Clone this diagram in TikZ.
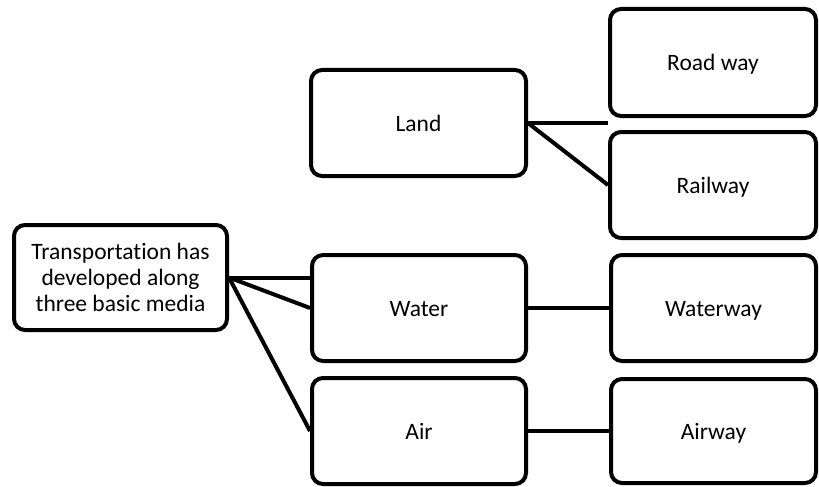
\documentclass[tikz,border=0pt]{standalone}
\usepackage{fontspec}
\setmainfont[Ligatures=NoCommon]{Carlito}
\begin{document}
\begin{tikzpicture}[x=1pt,y=-1pt,
  box/.style={draw=black, line width=4pt, rounded corners=11pt, fill=white,
    inner sep=0pt, align=center, font=\fontsize{23.5}{26}\selectfont},
  onebox/.style={box, text height=18pt, text depth=2pt},
  conn/.style={draw=black, line width=4pt}]
\useasboundingbox (0,0) rectangle (819,487);
\node[box, minimum width=213pt, minimum height=105pt] (trans) at (120.5,277.5) {Transportation has\\developed along\\three basic media};
\node[onebox, minimum width=215pt, minimum height=106pt] (land) at (418.5,123) {Land};
\node[onebox, minimum width=206pt, minimum height=107pt] (road) at (713,62.5) {Road way};
\node[onebox, minimum width=206pt, minimum height=106pt] (rail) at (713,185) {Railway};
\node[onebox, minimum width=214pt, minimum height=106pt] (water) at (419,308) {Water};
\node[onebox, minimum width=205pt, minimum height=106pt] (waterway) at (713.5,308) {Waterway};
\node[onebox, minimum width=214pt, minimum height=106pt] (air) at (419,431) {Air};
\node[onebox, minimum width=205pt, minimum height=104pt] (airway) at (713.5,431) {Airway};
\draw[conn] (trans.east) -- (trans.east -| water.west);
\draw[conn] (trans.east) -- (water.west);
\draw[conn] (trans.east) -- (air.west);
\draw[conn] (land.east) -- (land.east -| road.west);
\draw[conn] (land.east) -- (rail.west);
\draw[conn] (water.east) -- (waterway.west);
\draw[conn] (air.east) -- (airway.west);
\end{tikzpicture}
\end{document}
